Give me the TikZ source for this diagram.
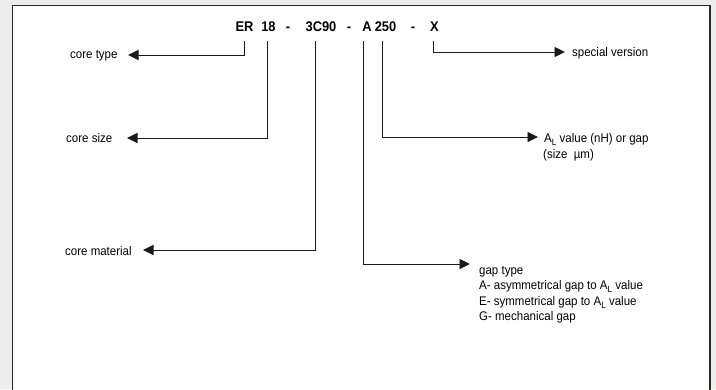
\documentclass[tikz,border=0pt]{standalone}
\usepackage{fontspec}
\setmainfont{Liberation Sans}[FakeStretch=0.92]
\usetikzlibrary{arrows.meta}
\definecolor{bggrey}{HTML}{EDEEEC}
\definecolor{framec}{HTML}{2A2A2A}
\definecolor{linec}{HTML}{1A1A1A}
\newcommand{\subL}{\raisebox{-3pt}{\fontsize{9}{9}\selectfont L}}
\begin{document}
\begin{tikzpicture}[x=1pt,y=-1pt,
  tok/.style={inner sep=0pt,anchor=base,font=\fontsize{14}{16}\selectfont\bfseries},
  lbl/.style={inner sep=0pt,font=\fontsize{12.5}{15}\selectfont},
  conn/.style={draw=linec,line width=0.9pt,-{Triangle[length=10.5pt,width=10pt]}},
  frame/.style={draw=framec,line width=1.6pt,fill=white}]
\useasboundingbox (0,0) rectangle (716,389);
\clip (0,0) rectangle (716,389);
\fill[bggrey] (0,0) rectangle (716,389);
\draw[frame] (12.5,5.5) rectangle (710,420);
% title tokens
\node[tok] (er)  at (244.5,31.5) {ER};
\node[tok] (n18) at (268.5,31.5) {18};
\node[tok] (d1)  at (288,31.5) {-};
\node[tok] (mat) at (321,31.5) {3C90};
\node[tok] (d2)  at (349,31.5) {-};
\node[tok] (ga)  at (367,31.5) {A};
\node[tok] (al)  at (385.5,31.5) {250};
\node[tok] (d3)  at (413,31.5) {-};
\node[tok] (sx)  at (434.5,31.5) {X};
% arrow tips
\coordinate (tType) at (128,55);
\coordinate (tSize) at (127,138);
\coordinate (tMat)  at (143,250);
\coordinate (tGap)  at (470,264);
\coordinate (tAL)   at (538,137);
\coordinate (tSpec) at (565,52);
% labels
\node[lbl,anchor=base west] (lType) at (70,58.5) {core type};
\node[lbl,anchor=base west] (lSize) at (66,142.5) {core size};
\node[lbl,anchor=base west] (lMat)  at (65,255) {core material};
\node[lbl,anchor=base west] (lSpec) at (572,56.5) {special version};
\node[lbl,anchor=base west] (lAL1)  at (544,142.5) {A\subL\ value (nH) or gap};
\node[lbl,anchor=base west] (lAL2)  at (543,158) {(size\ \ µm)};
\node[lbl,anchor=base west] (lG1)   at (479,274) {gap type};
\node[lbl,anchor=base west] (lG2)   at (479,289.5) {A- asymmetrical gap to A\subL\ value};
\node[lbl,anchor=base west] (lG3)   at (479,305) {E- symmetrical gap to A\subL\ value};
\node[lbl,anchor=base west] (lG4)   at (479,320.5) {G- mechanical gap};
% connectors
\draw[conn] ([xshift=-0.5pt,yshift=-9.5pt]er.south) |- (tType);
\draw[conn] ([xshift=-1.5pt,yshift=-9.5pt]n18.south) |- (tSize);
\draw[conn] ([xshift=-6pt,yshift=-9.5pt]mat.south) |- (tMat);
\draw[conn] ([xshift=-4pt,yshift=-9.5pt]ga.south) |- (tGap);
\draw[conn] ([xshift=-3.5pt,yshift=-9.5pt]al.south) |- (tAL);
\draw[conn] ([xshift=-1.5pt,yshift=-9.5pt]sx.south) |- (tSpec);
\end{tikzpicture}
\end{document}
